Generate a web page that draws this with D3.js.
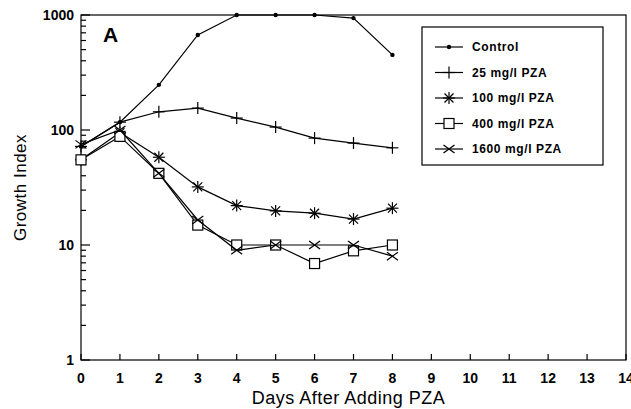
<!DOCTYPE html>
<html>
<head>
<meta charset="utf-8">
<script src="https://cdn.jsdelivr.net/npm/d3@7"></script>
<style>
  body { margin: 0; background: #fff; }
  svg { display: block; font-family: "Liberation Sans", Arial, sans-serif; }
</style>
</head>
<body>
<div id="chart"></div>
<script>
// Growth index vs. days after adding PZA (panel A)
const days = [0, 1, 2, 3, 4, 5, 6, 7, 8];
const control = [72, 117, 247, 670, 1000, 1000, 1000, 940, 450];
const pza25 = [72, 117, 144, 155, 127, 106, 85, 77, 70];
const pza100 = [55, 95, 58, 32, 22, 19.8, 18.9, 16.8, 20.9];
const pza400 = [55, 88, 42, 14.9, 10, 10, 6.9, 8.9, 10];
const pza1600 = [75, 100, 42, 16.5, 9, 10, 10, 10, 8];
const seriesNames = ["Control", "25 mg/l PZA", "100 mg/l PZA", "400 mg/l PZA", "1600 mg/l PZA"];
const markerTypes = ["dot", "plus", "star", "square", "cross"];
const xTicks = d3.range(0, 15);
const yTicks = [1, 10, 100, 1000];

const width = 631, height = 409;
const margin = { top: 15, right: 5, bottom: 49, left: 81 };

const svg = d3.select("#chart").append("svg")
  .attr("width", width)
  .attr("height", height);

const x = d3.scaleLinear().domain([0, 14]).range([margin.left, width - margin.right]);
const y = d3.scaleLog().domain([1, 1000]).range([height - margin.bottom, margin.top]);

// frame (top and right)
svg.append("rect")
  .attr("x", x(0)).attr("y", y(1000))
  .attr("width", x(14) - x(0)).attr("height", y(1) - y(1000))
  .attr("fill", "none").attr("stroke", "#000").attr("stroke-width", 1.2);

// y axis with inside ticks
const minor = [];
[1, 10, 100].forEach(d => { for (let k = 2; k <= 9; k++) minor.push(d * k); });
const yAxis = svg.append("g").attr("transform", `translate(${x(0)},0)`);
yAxis.selectAll(".minor").data(minor).enter().append("line")
  .attr("x1", 0).attr("x2", 5)
  .attr("y1", d => y(d)).attr("y2", d => y(d))
  .attr("stroke", "#000").attr("stroke-width", 1.2);
yAxis.selectAll(".major").data(yTicks).enter().append("line")
  .attr("x1", 0).attr("x2", 9)
  .attr("y1", d => y(d)).attr("y2", d => y(d))
  .attr("stroke", "#000").attr("stroke-width", 1.2);
yAxis.selectAll("text").data(yTicks).enter().append("text")
  .attr("x", -7).attr("y", d => y(d)).attr("dy", "0.35em")
  .attr("text-anchor", "end")
  .style("font-size", "14px").style("font-weight", "bold")
  .text(d => d);

// x axis with inside ticks
const xAxis = svg.append("g").attr("transform", `translate(0,${y(1)})`);
xAxis.selectAll("line").data(xTicks).enter().append("line")
  .attr("x1", d => x(d)).attr("x2", d => x(d))
  .attr("y1", 0).attr("y2", -6)
  .attr("stroke", "#000").attr("stroke-width", 1.2);
xAxis.selectAll("text").data(xTicks).enter().append("text")
  .attr("x", d => x(d)).attr("y", 23)
  .attr("text-anchor", "middle")
  .style("font-size", "14px").style("font-weight", "bold")
  .text(d => d);

// axis titles
svg.append("text")
  .attr("x", (x(0) + x(14)) / 2 - 5).attr("y", 404)
  .attr("text-anchor", "middle")
  .style("font-size", "18px").style("letter-spacing", "0.5px")
  .text("Days After Adding PZA");

svg.append("text")
  .attr("transform", `translate(26,${(y(1) + y(1000)) / 2}) rotate(-90)`)
  .attr("text-anchor", "middle")
  .style("font-size", "17px").style("letter-spacing", "0.5px")
  .text("Growth Index");

svg.append("text")
  .attr("x", 103).attr("y", 42)
  .style("font-size", "21px").style("font-weight", "bold")
  .text("A");

// markers
function drawMarker(g, type, cx, cy) {
  const s = 6;
  const st = { stroke: "#000", "stroke-width": 1.2, fill: "none" };
  const line = (x1, y1, x2, y2) => {
    const l = g.append("line").attr("x1", x1).attr("y1", y1).attr("x2", x2).attr("y2", y2);
    Object.entries(st).forEach(([k, v]) => l.attr(k, v));
  };
  if (type === "dot") {
    g.append("circle").attr("cx", cx).attr("cy", cy).attr("r", 2.2).attr("fill", "#000");
  } else if (type === "plus") {
    line(cx - s, cy, cx + s, cy);
    line(cx, cy - s, cx, cy + s);
  } else if (type === "star") {
    line(cx - s, cy, cx + s, cy);
    line(cx, cy - s, cx, cy + s);
    line(cx - 4.5, cy - 4.5, cx + 4.5, cy + 4.5);
    line(cx - 4.5, cy + 4.5, cx + 4.5, cy - 4.5);
  } else if (type === "square") {
    g.append("rect").attr("x", cx - 5).attr("y", cy - 5).attr("width", 10).attr("height", 10)
      .attr("fill", "#fff").attr("stroke", "#000").attr("stroke-width", 1.2);
  } else if (type === "cross") {
    line(cx - 5.5, cy - 4, cx + 5.5, cy + 4);
    line(cx - 5.5, cy + 4, cx + 5.5, cy - 4);
  }
}

const allSeries = [control, pza25, pza100, pza400, pza1600];
const lineGen = d3.line().x((d, i) => x(days[i])).y(d => y(d));

allSeries.forEach((vals, si) => {
  const g = svg.append("g");
  g.append("path").datum(vals)
    .attr("d", lineGen)
    .attr("fill", "none").attr("stroke", "#000").attr("stroke-width", 1.2);
  vals.forEach((v, i) => drawMarker(g, markerTypes[si], x(days[i]), y(v)));
});

// legend
const legend = svg.append("g");
legend.append("rect")
  .attr("x", 422).attr("y", 27).attr("width", 181).attr("height", 138)
  .attr("fill", "#fff").attr("stroke", "#000").attr("stroke-width", 1.2);
seriesNames.forEach((name, i) => {
  const ly = 47 + i * 25.5;
  const g = legend.append("g");
  g.append("line").attr("x1", 435).attr("x2", 463).attr("y1", ly).attr("y2", ly)
    .attr("stroke", "#000").attr("stroke-width", 1.2);
  drawMarker(g, markerTypes[i], 449, ly);
  g.append("text").attr("x", 472).attr("y", ly).attr("dy", "0.35em")
    .style("font-size", "12px").style("font-weight", "bold").style("letter-spacing", "0.6px")
    .text(name);
});
</script>
</body>
</html>
